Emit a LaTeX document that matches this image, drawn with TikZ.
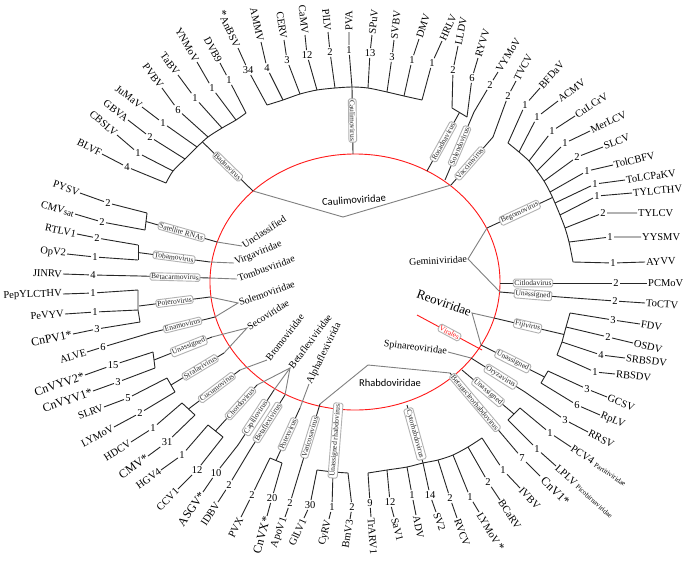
\documentclass[tikz,border=0pt]{standalone}
\usepackage{fontspec}
\setmainfont{Liberation Serif}
\newfontfamily\carlito{Carlito}
\usetikzlibrary{calc}

\tikzset{
  branch/.style={line width=0.9pt, black!85},
  famline/.style={line width=0.9pt, gray},
  ringline/.style={line width=0.9pt, red!90},
  genbox/.style={draw=gray!60, fill=white, rounded corners=1.5pt, inner sep=1.2pt, sloped, font=\fontsize{7.5}{8}\selectfont},
  numlab/.style={fill=white, inner sep=1.2pt, font=\fontsize{10.5}{12}\selectfont},
  tiplab/.style={inner sep=1pt, font=\fontsize{10.5}{12}\selectfont},
  famlab/.style={inner sep=1pt, font=\fontsize{10}{12}\selectfont},
  famsans/.style={inner sep=1pt, font=\carlito\fontsize{10.5}{12}\selectfont},
}
\newcommand{\newvir}[1]{{\fontsize{12}{13}\selectfont #1}}

\begin{document}
\begin{tikzpicture}[x=1pt,y=-1pt]
\path[fill=white] (0,0) rectangle (685,574);
\useasboundingbox (0,0) rectangle (685,574);

  % --- the ring ---
  \draw[ringline] (355,282) ellipse [x radius=145pt, y radius=128pt];

  % --- genus junctions on (or near) the ring ---
  \coordinate (rBad)   at (253,191);
  \coordinate (rCaul)  at (353,154);
  \coordinate (rRosa)  at (427,171);
  \coordinate (rSol)   at (445,180);
  \coordinate (rVac)   at (451,185);
  \coordinate (rBego)  at (487,228);
  \coordinate (rCit)   at (500,283);
  \coordinate (rGun)   at (500,292);
  \coordinate (rFiji)  at (494,318);
  \coordinate (rReoU)  at (481,345);
  \coordinate (rOry)   at (471,358);
  \coordinate (rRhU)   at (462,370);
  \coordinate (rBeta)  at (450,373);
  \coordinate (rCyto)  at (407,405);
  \coordinate (rUnR)   at (338,409);
  \coordinate (rVari)  at (320,404);
  \coordinate (rPot)   at (300,408);
  \coordinate (rBetaf) at (285,395);
  \coordinate (rCapi)  at (274,390);
  \coordinate (rChord) at (257,385);
  \coordinate (rCucu)  at (240,370);
  \coordinate (rStral) at (224,353);
  \coordinate (rSecU)  at (212,337);
  \coordinate (rEna)   at (215,317);
  \coordinate (rPole)  at (210,297);
  \coordinate (rBetac) at (210,278);
  \coordinate (rToba)  at (210,262);
  \coordinate (rSat)   at (217,242);

  % --- families (grey) ---
  \node[famsans, rotate=4] (fCaul) at (354,200) {Caulimoviridae};
  \coordinate (cCaul) at (343,217);
  \draw[famline] (rBad) -- (cCaul) -- (rVac);

  \node[famlab, anchor=east, rotate=3] (fGemi) at (468,259) {Geminiviridae};
  \draw[famline] (rBego) -- (fGemi.east) -- (rGun);

  \node[famlab, anchor=east, rotate=-20, font=\fontsize{13}{15}\selectfont] (fReo) at (472,313) {Reoviridae};
  \draw[famline] (rFiji) -- (fReo.east) -- (rReoU);

  \node[famlab, anchor=east, rotate=-7] (fSpin) at (448,352) {Spinareoviridae};
  \draw[famline] (fSpin.east) -- (rOry);

  \node[famsans] (fRhab) at (390,383) {Rhabdoviridae};
  \coordinate (cRhab) at (368,365);
  \draw[famline] (rVari) -- (cRhab) -- (rBeta);

  \node[famlab, anchor=west, rotate=33] (fUncl) at (242,246) {Unclassified};
  \node[famlab, anchor=west, rotate=22] (fVirg) at (234,263) {Virgaviridae};
  \node[famlab, anchor=west, rotate=20] (fTomb) at (237,279) {Tombusviridae};
  \node[famlab, anchor=west, rotate=19] (fSole) at (238,303) {Solemoviridae};
  \node[famlab, anchor=west, rotate=32] (fSeco) at (247,328) {Secoviridae};
  \node[famlab, anchor=west, rotate=52] (fBrom) at (267,360) {Bromoviridae};
  \node[famlab, anchor=west, rotate=53] (fBetaf) at (290,368) {Betaflexiviridae};
  \node[famlab, anchor=west, rotate=64] (fAlph) at (309,384) {Alphaflexivirida};
  \draw[famline] (rSat) -- (fUncl.west);
  \draw[famline] (rToba) -- (fVirg.west);
  \draw[famline] (rBetac) -- (fTomb.west);
  \draw[famline] (rPole) -- (fSole.west) -- (rEna);
  \draw[famline] (rSecU) -- (fSeco.west) -- (rStral);
  \draw[famline] (rCucu) -- (fBrom.west);
  \draw[famline] (rChord) -- (fBetaf.west) -- (rBetaf);
  \draw[famline] (fBetaf.west) -- (rCapi);
  \draw[famline] (fAlph.west) -- (rPot);

  % --- order line ---
  \coordinate (vA) at (417,315);
  \coordinate (vB) at (482,350);
  \draw[ringline] (vA) -- node[genbox] {Virales} (vB);

  % --- leaves: attach / count / tip ---
  \foreach \ax/\ay/\nx/\ny/\lx/\ly/\num/\name [count=\i] in {
    166/183/127/167/102/154/4/BLVF,
    173/171/138/153/117/135/1/CBSLV,
    185/159/150/137/128/120/2/GBVA,
    197/147/163/123/142/107/1/JuMaV,
    208/137/178/110/162/88/6/PVBV,
    222/128/195/98/178/75/1/TaBV,
    236/120/212/88/197/62/1/YNMoV,
    246/113/229/80/220/63/1/DVB9,
    267/105/248/70/238/48/34/{{\large *}AnBSV},
    283/100/267/68/261/42/4/AMMV,
    300/94/287/60/284/40/3/CERV,
    317/90/307/55/305/35/12/CaMV,
    335/88/330/52/328/32/2/PlLV,
    352/87/349/50/349/32/1/PVA,
    368/88/370/53/372/35/13/SPuV,
    387/92/392/57/394/40/3/SVBV,
    404/96/412/60/419/39/1/DMV,
    422/100/432/63/442/41/1/HRLV,
    452/108/453/70/458/46/2/LLDV,
    467/117/472/78/478/58/6/RYVV,
    474/112/490/85/498/72/2/VYMoV,
    493/137/508/96/516/81/2/TVCV,
    508/143/525/105/540/88/1/BFDaV,
    519/152/537/117/558/101/1/ACMV,
    529/161/552/131/575/116/1/CuLCrV,
    537/171/565/143/590/131/1/MerLCV,
    544/181/577/157/603/147/2/SLCV,
    550/192/587/171/613/165/1/TolCBFV,
    555/203/595/184/625/180/1/ToLCPaKV,
    560/215/597/196/632/193/1/TYLCTHV,
    565/228/603/213/637/213/2/TYLCV,
    569/242/610/237/641/237/1/YYSMV,
    573/262/613/263/645/262/1/AYVV,
    560/283/616/283/647/283/2/PCMoV,
    560/297/615/301/645/303/2/ToCTV,
    570/313/613/320/640/324/3/FDV,
    566/327/608/337/633/343/2/OSDV,
    562/342/601/355/625/358/4/SRBSDV,
    557/355/595/372/615/374/1/RBSDV,
    548/371/587/389/607/397/3/GCSV,
    541/383/577/405/600/415/6/RpLV,
    525/392/565/420/588/432/3/RRSV,
    520/408/550/433/571/447/1/{PCV4 {\scriptsize Partitiviridae}},
    508/420/537/449/556/466/1/{LPLV {\scriptsize Picobirnaviridae}},
    500/432/522/458/540/476/7/{\hspace{3pt}\newvir{CnV1*}},
    482/438/503/470/520/488/1/IVBV,
    468/447/488/482/500/500/2/BCaRV,
    453/455/470/497/479/512/1/{LYMoV\,{\large *}},
    438/460/450/498/457/518/2/RVCV,
    423/463/430/495/436/512/14/SV2,
    407/467/412/495/416/515/1/ADV,
    387/470/390/502/394/517/12/SaV1,
    368/473/370/503/371/517/9/TrARV1,
    348/473/352/507/350/519/2/BmV3,
    333/472/332/507/329/519/1/CyRV,
    317/470/310/505/304/518/30/GlLV1,
    300/470/290/503/285/517/2/ApoV1,
    282/463/272/498/267/516/20/{\newvir{CnVX*}\hspace{3pt}},
    270/458/252/495/241/517/2/PVX,
    250/450/229/485/218/502/2/IDBV,
    238/445/216/473/203/492/10/{\newvir{ASGV*}\hspace{3pt}},
    223/437/197/470/178/489/12/CCV1,
    208/425/182/455/161/470/1/HGV4,
    195/415/167/442/148/456/31/{\newvir{CMV*}\hspace{3pt}},
    182/403/153/428/131/442/1/HDCV,
    175/392/140/413/114/427/2/LYMoV,
    167/378/128/398/104/407/5/SLRV,
    155/368/118/382/93/391/3/{\newvir{CnVYV1*}\hspace{3pt}},
    153/352/113/365/85/375/15/{\newvir{CnVYV2*}\hspace{3pt}},
    150/333/103/347/87/352/6/ALVE,
    140/322/97/329/73/334/3/{\newvir{CnPV1*}\hspace{3pt}},
    138/310/95/312/65/314/1/PeVYV,
    138/290/93/293/63/294/1/PepYLCTHV,
    140/276/93/275/63/274/4/JINRV,
    138/260/95/257/67/254/1/OpV2,
    138/245/97/238/77/234/2/RTLV1,
    145/230/102/222/75/214/2/{CMV{\small sat}},
    147/213/108/203/80/193/2/PYSV}{
    \pgfmathsetmacro\ang{atan2(\ny-\ly,\lx-\nx)}
    \pgfmathtruncatemacro\lft{abs(\ang)>90 ? 1 : 0}
    \pgfmathsetmacro\rot{ifthenelse(\lft==1, ifthenelse(\ang>0, \ang-180, \ang+180), \ang)}
    \ifnum\lft=1 \def\anc{east}\else\def\anc{west}\fi
    \coordinate (a\i) at (\ax,\ay);
    \node[numlab] (n\i) at (\nx,\ny) {\num};
    \node[tiplab, anchor=\anc, rotate=\rot] (t\i) at (\lx,\ly) {\name};
    \draw[branch] (a\i) -- (n\i) -- (t\i);
  }

  % --- backbones ---
  \draw[branch] plot[smooth] coordinates {(a1) (a2) (a3) (a4) (a5) (a6) (a7) (a8)};
  \draw[branch] plot[smooth] coordinates {(a9) (a10) (a11) (a12) (a13) (a14) (a15) (a16) (a17) (a18)};
  \draw[branch] (a19) -- (a20);
  \draw[branch] plot[smooth] coordinates {(a23) (a24) (a25) (a26) (a27) (a28) (a29) (a30) (a31) (a32) (a33)};
  \draw[branch] (a36) -- (a37) -- (a38) -- (a39);
  \draw[branch] (a40) -- (a41);
  \draw[branch] (a43) -- (a44);
  \draw[branch] plot[smooth] coordinates {(a53) (a52) (a51) (a50) (a49) (a48) (a47) (a46)};
  \draw[branch] (a56) -- (a55) -- (a54);
  \draw[branch] (a59) -- (a58);
  \draw[branch] (a63) -- (a62);
  \draw[branch] (a65) -- (a64);
  \draw[branch] (a67) -- (a66);
  \draw[branch] (a69) -- (a68);
  \draw[branch] (a73) -- (a72) -- (a71);
  \draw[branch] (a76) -- (a75);
  \draw[branch] (a78) -- (a77);

  \coordinate (jBad)   at ($(a4)!.5!(a5)$);
  \coordinate (jRosa)  at ($(a19)!.5!(a20)$);
  \coordinate (jBego)  at ($(a28)!.5!(a29)$);
  \coordinate (jFiji)  at ($(a37)!.5!(a38)$);
  \coordinate (jReoU)  at ($(a40)!.5!(a41)$);
  \coordinate (jRhU)   at ($(a43)!.5!(a44)$);
  \coordinate (jPot)   at ($(a58)!.5!(a59)$);
  \coordinate (jChord) at ($(a62)!.5!(a63)$);
  \coordinate (jCucu)  at ($(a64)!.5!(a65)$);
  \coordinate (jStral) at ($(a66)!.5!(a67)$);
  \coordinate (jSecU)  at ($(a68)!.5!(a69)$);
  \coordinate (jPole)  at ($(a71)!.5!(a73)$);
  \coordinate (jToba)  at ($(a75)!.5!(a76)$);
  \coordinate (jSat)   at ($(a77)!.5!(a78)$);

  % --- genera ---
  \draw[branch] (rBad) -- node[genbox] {Badnavirus} (jBad);
  \draw[branch] (a14) -- node[genbox] {Caulimovirus} (rCaul);
  \draw[branch] (rRosa) -- node[genbox] {Rosadnavirus} (jRosa);
  \draw[branch] (rSol) -- node[genbox] {Solendovirus} (a21);
  \draw[branch] (rVac) -- node[genbox, pos=.45] {Vaccinivirus} (a22);
  \draw[branch] (rBego) -- node[genbox] {Begomovirus} (jBego);
  \draw[branch] (rCit) -- node[genbox, pos=.55] {Citlodavirus} (a34);
  \draw[branch] (rGun) -- node[genbox, pos=.55] {Unassigned} (a35);
  \draw[branch] (rFiji) -- node[genbox, pos=.48] {Fijivirus} (jFiji);
  \draw[branch] (rReoU) -- node[genbox] {Unassigned} (jReoU);
  \draw[branch] (rOry) -- node[genbox, pos=.55] {Oryzavirus} (a42);
  \draw[branch] (rRhU) -- node[genbox] {Unassigned} (jRhU);
  \draw[branch] (rBeta) -- node[genbox, pos=.5] {Betanucleorhabdovirus} (a45);
  \draw[branch] (rCyto) -- node[genbox] {Cytorhabdovirus} (a50);
  \draw[branch] (rUnR) -- node[genbox] {Unassigned rhabdovirus} (a55);
  \draw[branch] (rVari) -- node[genbox] {Varicosavirus} (a57);
  \draw[branch] (rPot) -- node[genbox] {Potexvirus} (jPot);
  \draw[branch] (rBetaf) -- node[genbox] {Betaflexivirus} (a60);
  \draw[branch] (rCapi) -- node[genbox] {Capillovirus} (a61);
  \draw[branch] (rChord) -- node[genbox, pos=.4] {Chordovirus} (jChord);
  \draw[branch] (rCucu) -- node[genbox, pos=.45] {Cucumovirus} (jCucu);
  \draw[branch] (rStral) -- node[genbox, pos=.45] {Stralarivirus} (jStral);
  \draw[branch] (rSecU) -- node[genbox, pos=.4] {Unassigned} (jSecU);
  \draw[branch] (rEna) -- node[genbox] {Enamovirus} (a70);
  \draw[branch] (rPole) -- node[genbox] {Polerovirus} (jPole);
  \draw[branch] (rBetac) -- node[genbox] {Betacarmovirus} (a74);
  \draw[branch] (rToba) -- node[genbox] {Tobamovirus} (jToba);
  \draw[branch] (rSat) -- node[genbox] {Satellite RNAs} (jSat);

\end{tikzpicture}
\end{document}
